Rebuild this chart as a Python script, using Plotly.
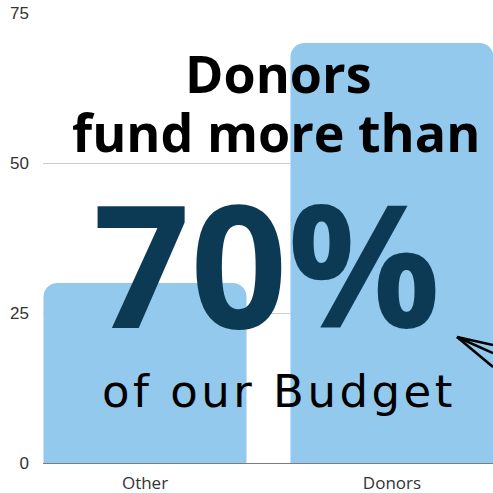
import plotly.graph_objects as go

categories = ["Other", "Donors"]
values = [30, 70]
y_ticks = [0, 25, 50, 75]

BAR_COLOR = "#93c9ec"
NAVY = "#0c3a55"

fig = go.Figure()
fig.add_trace(go.Bar(
    x=categories, y=values,
    marker=dict(color=BAR_COLOR, line=dict(width=0)),
    hoverinfo="skip",
))

W, H = 493, 493
L, R, T, B = 43, 0, 13, 30
pw, ph = W - L - R, H - T - B

def px(x):  # window pixel -> paper
    return (x - L) / pw

def py(y):
    return (H - B - y) / ph

fig.update_layout(
    width=W, height=H,
    margin=dict(l=L, r=R, t=T, b=B, pad=0),
    paper_bgcolor="white", plot_bgcolor="white",
    showlegend=False,
    bargap=0.178,
    barcornerradius=14,
    xaxis=dict(
        range=[-0.413, 1.409],
        showgrid=False, zeroline=False,
        showline=True, linecolor="rgba(70,70,70,0.7)", linewidth=1,
        layer="above traces",
        ticks="",
        ticklabelstandoff=5,
        tickfont=dict(family="Open Sans", size=17, color="#333333"),
        fixedrange=True,
    ),
    yaxis=dict(
        range=[0, 75],
        tickvals=y_ticks,
        showgrid=True, gridcolor="#cccccc", gridwidth=1,
        zeroline=False, showline=False,
        ticks="",
        ticklabelstandoff=13,
        ticklabeloverflow="allow",
        tickfont=dict(family="Liberation Sans, Arial", size=17, color="#333333"),
        fixedrange=True,
    ),
    font=dict(family="Open Sans"),
)

anns = [
    dict(text="<b>Donors</b>", x=px(278), y=py(73), size=52, color="black", fam="Open Sans"),
    dict(text="<b>fund more than</b>", x=px(276), y=py(131), size=52, color="black", fam="Open Sans"),
    dict(text="<b>70%</b>", x=px(267), y=py(262), size=170, color=NAVY, fam="Open Sans"),
    dict(text='<span style="letter-spacing:3.5px">of our Budget</span>', x=px(279), y=py(391),
         size=45, color="black", fam="DejaVu Sans"),
]
for a in anns:
    fig.add_annotation(
        text=a["text"], x=a["x"], y=a["y"], xref="paper", yref="paper",
        xanchor="center", yanchor="middle", showarrow=False,
        font=dict(family=a["fam"], size=a["size"], color=a["color"]),
    )

tip = (457, 337)
ends = [(493, 345), (493, 353), (493, 367)]
for e in ends:
    fig.add_shape(
        type="line", xref="paper", yref="paper",
        x0=px(tip[0]), y0=py(tip[1]), x1=px(e[0]), y1=py(e[1]),
        line=dict(color="black", width=2.5),
    )

fig.write_html(
    "out.html",
    config={"displayModeBar": False},
    post_script="document.body.style.margin='0';document.body.style.overflow='hidden';",
)
